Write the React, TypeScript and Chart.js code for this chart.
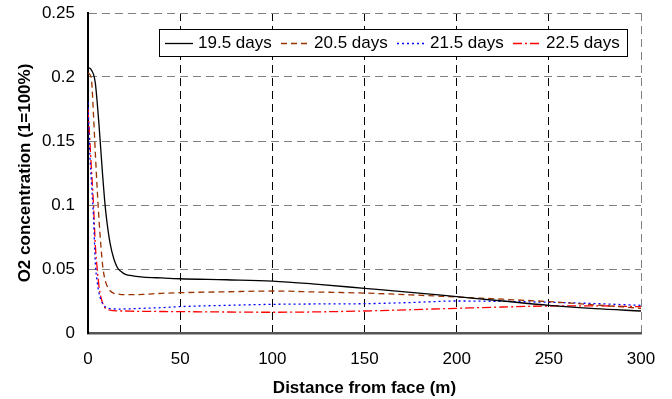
import React, { useEffect, useRef } from "react";
import { Chart, registerables } from "chart.js";

Chart.register(...registerables);

const distances = [0, 1, 2, 3, 4, 5, 6, 7, 8, 9, 10, 12, 14, 16, 18, 20, 25, 30, 40, 50, 75, 100, 125, 150, 175, 200, 225, 250, 275, 300];

const days195 = [0.207, 0.207, 0.205, 0.202, 0.195, 0.18, 0.162, 0.142, 0.122, 0.104, 0.09, 0.07, 0.058, 0.051, 0.048, 0.046, 0.0445, 0.0437, 0.043, 0.0424, 0.0416, 0.0406, 0.038, 0.0349, 0.0318, 0.0284, 0.025, 0.0216, 0.019, 0.0172];
const days205 = [0.203, 0.202, 0.196, 0.17, 0.14, 0.112, 0.088, 0.068, 0.052, 0.043, 0.038, 0.033, 0.031, 0.0305, 0.03, 0.03, 0.03, 0.0302, 0.031, 0.0315, 0.0322, 0.0328, 0.032, 0.0312, 0.0298, 0.0281, 0.0264, 0.0245, 0.022, 0.0193];
const days215 = [0.18, 0.14, 0.115, 0.09, 0.054, 0.04, 0.031, 0.026, 0.023, 0.021, 0.0198, 0.019, 0.0188, 0.0187, 0.0187, 0.0188, 0.019, 0.0193, 0.0198, 0.0206, 0.0216, 0.0224, 0.0227, 0.0229, 0.0238, 0.025, 0.0247, 0.024, 0.023, 0.0216];
const days225 = [0.175, 0.15, 0.125, 0.1, 0.068, 0.05, 0.036, 0.028, 0.023, 0.02, 0.0188, 0.0178, 0.0175, 0.0173, 0.0172, 0.0172, 0.017, 0.0169, 0.0168, 0.0167, 0.0164, 0.0162, 0.0165, 0.0172, 0.0182, 0.0193, 0.0203, 0.0211, 0.0212, 0.0206];

const seriesLabels = ["19.5 days", "20.5 days", "21.5 days", "22.5 days"];
const seriesValues = [days195, days205, days215, days225];
const seriesColors = ["#000000", "#993300", "#0000ff", "#ff0000"];
const seriesDashes: number[][] = [[], [6, 4], [2, 3], [9, 3, 2, 3]];

const FONT = 'Arial, "Liberation Sans", sans-serif';

const boxLegend = {
  id: "boxLegend",
  afterDatasetsDraw(chart: any) {
    const { ctx, chartArea } = chart;
    const left = chartArea.right - 482;
    const top = chartArea.top + 16;
    const w = 468;
    const h = 27;
    ctx.save();
    ctx.fillStyle = "#ffffff";
    ctx.fillRect(left, top, w, h);
    ctx.strokeStyle = "#000000";
    ctx.lineWidth = 1;
    ctx.setLineDash([]);
    ctx.strokeRect(Math.round(left) + 0.5, Math.round(top) + 0.5, w, h);
    const cy = Math.round(top + 14) + 0.5;
    chart.data.datasets.forEach((ds: any, i: number) => {
      const x0 = left + 6 + i * 116;
      ctx.beginPath();
      ctx.setLineDash(ds.borderDash || []);
      ctx.strokeStyle = ds.borderColor;
      ctx.lineWidth = ds.borderWidth;
      ctx.moveTo(x0, cy);
      ctx.lineTo(x0 + 28, cy);
      ctx.stroke();
      ctx.setLineDash([]);
      ctx.fillStyle = "#000000";
      ctx.font = `17px ${FONT}`;
      ctx.textBaseline = "middle";
      ctx.textAlign = "left";
      ctx.fillText(ds.label, x0 + 33, cy);
    });
    ctx.restore();
  },
};

export default function App() {
  const ref = useRef<HTMLCanvasElement>(null);
  useEffect(() => {
    document.body.style.margin = "0";
    const chart = new Chart(ref.current!, {
      type: "line",
      data: {
        datasets: seriesLabels.map((label, i) => ({
          label,
          data: distances.map((d, j) => ({ x: d, y: seriesValues[i][j] })),
          borderColor: seriesColors[i],
          backgroundColor: seriesColors[i],
          borderDash: seriesDashes[i],
          borderWidth: 1.3,
          pointRadius: 0,
          fill: false,
          cubicInterpolationMode: "monotone" as const,
        })),
      },
      options: {
        responsive: false,
        animation: false,
        layout: { padding: { top: 13, right: 31, left: 0, bottom: 0 } },
        plugins: { legend: { display: false }, tooltip: { enabled: false } },
        scales: {
          x: {
            type: "linear",
            min: 0,
            max: 300,
            afterFit: (s: any) => {
              s.height = 66;
              s.paddingLeft = 0;
              s.paddingRight = 0;
            },
            ticks: {
              stepSize: 50,
              padding: 16,
              color: "#000",
              font: { family: FONT, size: 17 },
              maxRotation: 0,
            },
            grid: {
              drawTicks: false,
              lineWidth: 1,
              color: (c: any) => (c.tick && c.tick.value === 300 ? "#808080" : "#000000"),
            },
            border: { display: true, color: "#555555", width: 2.5, dash: [8, 5] },
            title: {
              display: true,
              text: "Distance from face (m)",
              color: "#000",
              font: { family: FONT, size: 17, weight: "bold" },
              padding: { top: 0, bottom: 0 },
            },
          },
          y: {
            type: "linear",
            min: 0,
            max: 0.25,
            afterFit: (s: any) => {
              s.width = 88;
              s.paddingTop = 0;
              s.paddingBottom = 0;
            },
            ticks: {
              stepSize: 0.05,
              padding: 13,
              color: "#000",
              font: { family: FONT, size: 17 },
              callback: (v: any) => String(+Number(v).toFixed(2)),
            },
            grid: {
              drawTicks: false,
              lineWidth: 1,
              color: "#808080",
            },
            border: { display: true, color: "#000000", width: 2, dash: [8, 5] },
            title: {
              display: true,
              text: "O2 concentration (1=100%)",
              color: "#000",
              font: { family: FONT, size: 17, weight: "bold" },
              padding: { top: 15, bottom: 0 },
            },
          },
        },
      },
      plugins: [boxLegend],
    });
    return () => chart.destroy();
  }, []);
  return (
    <div style={{ position: "absolute", left: 0, top: 0, width: 672, height: 399 }}>
      <canvas ref={ref} width={672} height={399} />
    </div>
  );
}
